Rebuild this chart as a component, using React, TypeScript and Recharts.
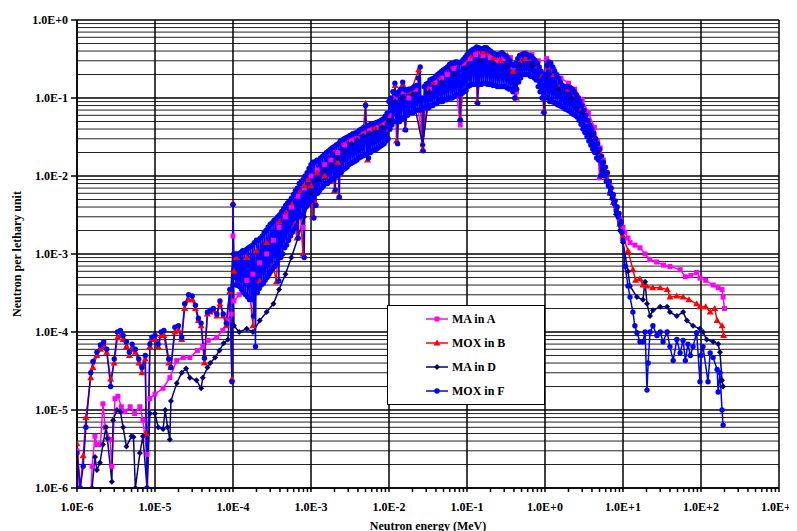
import React from 'react';
import { LineChart, Line, XAxis, YAxis, CartesianGrid, Legend } from 'recharts';

const FONT = '"Liberation Serif", "Times New Roman", serif';

const X_DECADES = [1e-6, 1e-5, 1e-4, 1e-3, 1e-2, 1e-1, 1e0, 1e1, 1e2, 1e3];
const X_LABELS = ['1.0E-6', '1.0E-5', '1.0E-4', '1.0E-3', '1.0E-2', '1.0E-1', '1.0E+0', '1.0E+1', '1.0E+2', '1.0E+3'];
const Y_DECADES = [1e-6, 1e-5, 1e-4, 1e-3, 1e-2, 1e-1, 1e0];
const Y_LABELS = ['1.0E-6', '1.0E-5', '1.0E-4', '1.0E-3', '1.0E-2', '1.0E-1', '1.0E+0'];
const STEPS = [2, 3, 4, 5, 6, 7, 8, 9];

// minor positions (2..9 in each decade)
const X_TICKS = X_DECADES.flatMap((d, i) => (i < X_DECADES.length - 1 ? [d, ...STEPS.map((s) => s * d)] : [d]));
const Y_MINOR = Y_DECADES.slice(0, -1).flatMap((d) => STEPS.map((s) => s * d));

// [energy MeV, neutrons per lethargy unit]
const MA_A: [number, number][] = [
  [1.0e-6, 3e-6], [1.1e-6, 6e-7], [1.5e-6, 7e-7], [1.56e-6, 1.9e-6], [1.7e-6, 4.6e-6], [1.8e-6, 3.6e-6],
  [2.0e-6, 3.6e-6], [2.15e-6, 1.2e-5], [2.3e-6, 6e-6], [2.65e-6, 4.2e-6], [2.8e-6, 1.9e-6], [3.07e-6, 1.4e-5],
  [3.35e-6, 1.5e-5], [3.7e-6, 1.1e-5], [4.1e-6, 9.5e-6], [4.8e-6, 1.1e-5], [5.5e-6, 9e-6], [6.4e-6, 1.1e-5],
  [7.0e-6, 7.4e-6], [7.9e-6, 2.7e-6], [8.6e-6, 1.4e-5], [1.0e-5, 1.6e-5], [1.27e-5, 1.9e-5], [1.55e-5, 2.6e-5],
  [1.9e-5, 4.3e-5], [2.3e-5, 4.7e-5], [2.8e-5, 4.7e-5], [3.5e-5, 5.8e-5], [4.1e-5, 6.5e-5], [4.8e-5, 7.8e-5],
  [6.2e-5, 8.5e-5], [7.4e-5, 1.05e-4], [8.6e-5, 1.4e-4], [9.5e-5, 1.7e-4], [1.0e-4, 1.7e-3], [1.03e-4, 2.5e-4],
  [1.2e-4, 3e-4], [1.5e-4, 4.6e-4], [1.8e-4, 5.5e-4], [2.2e-4, 7.7e-4], [2.7e-4, 1.0e-3], [3.3e-4, 1.5e-3],
  [3.9e-4, 2.2e-3], [4.7e-4, 3.0e-3], [5.6e-4, 4.0e-3], [6.8e-4, 5.5e-3], [7.9e-4, 2.2e-3], [8.2e-4, 7e-3],
  [1.0e-3, 1.0e-2], [1.2e-3, 1.2e-2], [1.5e-3, 1.4e-2], [1.8e-3, 1.6e-2], [2.2e-3, 2.0e-2], [2.7e-3, 2.5e-2],
  [3.3e-3, 2.9e-2], [3.9e-3, 3.0e-2], [4.7e-3, 3.5e-2], [5.6e-3, 4e-2], [6.8e-3, 4.2e-2], [8.2e-3, 4.8e-2],
  [1.0e-2, 6e-2], [1.2e-2, 1.0e-1], [1.5e-2, 1.2e-1], [1.8e-2, 1.0e-1], [2.2e-2, 1.3e-1], [2.7e-2, 2.5e-2],
  [3.3e-2, 1.3e-1], [3.9e-2, 1.6e-1], [4.7e-2, 1.8e-1], [5.6e-2, 2.0e-1], [6.8e-2, 2.4e-1], [8.2e-2, 4.5e-2],
  [9.1e-2, 2.8e-1], [1.1e-1, 3.2e-1], [1.3e-1, 3.6e-1], [1.6e-1, 3.5e-1], [2.0e-1, 3.3e-1], [2.4e-1, 3.0e-1],
  [3.0e-1, 3.2e-1], [3.6e-1, 3.3e-1], [3.9e-1, 2.5e-1], [4.3e-1, 1.2e-1], [4.7e-1, 3.4e-1], [5.6e-1, 3.8e-1],
  [6.8e-1, 3.6e-1], [8.2e-1, 3.0e-1], [9.6e-1, 1.0e-1], [1.05, 3.2e-1], [1.3, 2.3e-1], [1.6, 1.8e-1],
  [2.0, 1.55e-1], [2.4, 1.3e-1], [3.0, 9.5e-2], [3.6, 6.5e-2], [4.3, 4.2e-2], [4.7, 2.8e-2], [5.0, 9.5e-3],
  [5.1, 2.3e-2], [5.6, 1.6e-2], [6.2, 1.1e-2], [6.8, 7.5e-3], [7.5, 5.5e-3], [8.2, 4e-3], [9.1, 2.8e-3],
  [10, 2.2e-3], [10.6, 1.9e-3], [11.6, 1.6e-3], [12.3, 1.4e-3], [14.2, 1.3e-3], [16.5, 1.2e-3], [19.2, 1.0e-3],
  [22, 8.5e-4], [27, 7.9e-4], [33, 7.2e-4], [40, 6.9e-4], [54, 6.3e-4], [63, 5.1e-4], [74, 5.3e-4],
  [88, 5.8e-4], [97, 4.9e-4], [115, 4.6e-4], [143, 4e-4], [166, 3.7e-4], [186, 3.5e-4], [192, 2.8e-4], [200, 2e-4],
];

const MOX_B: [number, number][] = [
  [1.0e-6, 3.7e-6], [1.1e-6, 1.0e-6], [1.2e-6, 2.6e-6], [1.3e-6, 8e-6], [1.5e-6, 2.6e-5], [1.6e-6, 3.5e-5],
  [1.8e-6, 5e-5], [2.0e-6, 6e-5], [2.2e-6, 6.5e-5], [2.4e-6, 5.5e-5], [2.7e-6, 2.5e-5], [3.0e-6, 4e-5],
  [3.3e-6, 8.5e-5], [3.6e-6, 9e-5], [3.9e-6, 8e-5], [4.3e-6, 6.5e-5], [4.7e-6, 5e-5], [5.1e-6, 6e-5],
  [5.6e-6, 5.5e-5], [6.2e-6, 4e-5], [6.8e-6, 3e-5], [7.5e-6, 4.5e-5], [7.7e-6, 5e-6], [8.0e-6, 1.0e-6],
  [8.6e-6, 6.5e-5], [9.1e-6, 8e-5], [1.0e-5, 8e-5], [1.1e-5, 6.5e-5], [1.2e-5, 9e-5], [1.3e-5, 9e-5],
  [1.5e-5, 4e-5], [1.6e-5, 3.5e-5], [1.8e-5, 1.0e-4], [2.0e-5, 1.05e-4], [2.2e-5, 8e-5], [2.4e-5, 2.0e-4],
  [2.7e-5, 2.6e-4], [3.0e-5, 2.6e-4], [3.3e-5, 2.0e-4], [3.6e-5, 1.4e-4], [3.9e-5, 1.2e-4], [4.3e-5, 4e-5],
  [4.7e-5, 1.7e-4], [5.1e-5, 1.8e-4], [5.6e-5, 1.9e-4], [6.2e-5, 1.6e-4], [6.8e-5, 2.3e-4], [7.5e-5, 1.6e-4],
  [8.2e-5, 1.2e-4], [9.1e-5, 3.3e-4], [9.7e-5, 2.5e-5], [1.0e-4, 4.5e-3], [1.03e-4, 6e-4],
  [1.1e-4, 9e-4], [1.2e-4, 4e-4], [1.5e-4, 9e-4], [1.8e-4, 1.2e-4], [2.0e-4, 1.1e-3], [2.2e-4, 4.5e-4],
  [2.7e-4, 1.4e-3], [3.3e-4, 7e-4], [3.6e-4, 4.4e-4], [3.9e-4, 2.6e-3], [4.7e-4, 3.5e-3], [5.6e-4, 4.5e-3],
  [6.2e-4, 2.4e-3], [6.6e-4, 1.6e-3], [7.0e-4, 6.5e-3], [7.9e-4, 1.0e-3], [8.2e-4, 7.5e-3], [9.1e-4, 9e-3],
  [1.0e-3, 7.5e-3], [1.05e-3, 3.0e-3], [1.1e-3, 1.5e-2], [1.15e-3, 4.5e-3], [1.2e-3, 1.1e-2], [1.5e-3, 1.0e-2],
  [1.6e-3, 2.0e-2], [1.8e-3, 8.5e-3], [1.9e-3, 2.2e-2], [2.0e-3, 6.5e-3], [2.2e-3, 1.5e-2], [2.3e-3, 5.5e-3],
  [2.4e-3, 2.7e-2], [2.8e-3, 3.0e-2], [3.3e-3, 3.4e-2], [3.9e-3, 3.6e-2], [4.7e-3, 4.0e-2], [5.0e-3, 8.5e-2],
  [5.3e-3, 1.6e-2], [5.6e-3, 4.5e-2], [6.5e-3, 4.3e-2], [7.5e-3, 4.8e-2], [8.5e-3, 5.2e-2], [9.5e-3, 6.2e-2],
  [1.0e-2, 4e-2], [1.2e-2, 1.45e-1], [1.25e-2, 2.8e-2], [1.5e-2, 1.5e-1], [1.6e-2, 4e-2], [1.9e-2, 1.2e-1],
  [2.4e-2, 2.3e-1], [2.7e-2, 2.2e-2], [3.0e-2, 1.4e-1], [3.6e-2, 1.6e-1], [4.3e-2, 1.9e-1], [5.1e-2, 2.3e-1],
  [6.2e-2, 2.6e-1], [7.5e-2, 2.8e-1], [8.2e-2, 5.5e-2], [9.5e-2, 3.1e-1], [1.1e-1, 3.5e-1], [1.3e-1, 4.2e-1],
  [1.35e-1, 9e-2], [1.6e-1, 3.9e-1], [1.9e-1, 3.8e-1], [2.2e-1, 3.3e-1], [2.7e-1, 3.0e-1], [3.3e-1, 3.5e-1],
  [3.9e-1, 2.2e-1], [4.3e-1, 1.0e-1], [4.7e-1, 3.0e-1], [5.6e-1, 3.2e-1], [6.8e-1, 3.2e-1], [8.2e-1, 2.6e-1],
  [9.1e-1, 1.9e-1], [9.6e-1, 6.8e-2], [1.1, 2.5e-1], [1.3, 2.0e-1], [1.6, 1.5e-1], [2.0, 1.3e-1], [2.4, 1.1e-1],
  [3.0, 7.5e-2], [3.6, 5e-2], [4.3, 3.2e-2], [5.1, 1.9e-2], [5.6, 1.2e-2], [6.2, 9e-3], [6.8, 6e-3],
  [7.5, 4.6e-3], [8.2, 3.4e-3], [9.1, 2.4e-3],
  [10, 1.7e-3], [11.6, 1.1e-3], [13.4, 6.3e-4], [14.5, 4.6e-4], [16.5, 4.8e-4], [18, 4e-4], [20, 3.9e-4],
  [24, 3.7e-4], [30, 3.7e-4], [37, 3.5e-4], [40, 2.8e-4], [49, 2.9e-4], [59, 2.8e-4], [70, 2.6e-4],
  [88, 2.3e-4], [97, 2.1e-4], [115, 2.1e-4], [131, 1.8e-4], [150, 2.0e-4], [161, 1.4e-4], [186, 1.2e-4], [195, 9e-5],
];

const MA_D: [number, number][] = [
  [1.0e-6, 1.0e-6], [1.3e-6, 5e-7], [1.56e-6, 1.0e-6], [1.7e-6, 2.5e-6], [1.8e-6, 1.7e-6], [1.97e-6, 2.1e-6],
  [2.15e-6, 3.6e-6], [2.35e-6, 6e-6], [2.45e-6, 4.3e-6], [2.8e-6, 1.2e-6], [2.9e-6, 7.4e-6], [3.25e-6, 1.0e-5],
  [3.6e-6, 9.5e-6], [3.9e-6, 6e-6], [4.3e-6, 3.4e-6], [5.0e-6, 4.6e-6], [5.3e-6, 4.5e-6], [5.6e-6, 1.0e-6],
  [6.4e-6, 2.8e-6], [7.0e-6, 4.6e-6], [7.9e-6, 1.0e-6], [8.6e-6, 9e-6], [1.0e-5, 9e-6], [1.1e-5, 6e-6],
  [1.27e-5, 5.7e-6], [1.35e-5, 1.0e-5], [1.45e-5, 6e-6], [1.55e-5, 4.2e-6], [1.6e-5, 1.3e-5], [1.9e-5, 2.2e-5],
  [2.2e-5, 3e-5], [2.5e-5, 3.4e-5], [2.8e-5, 2.6e-5], [3.4e-5, 2.4e-5], [3.9e-5, 1.9e-5], [4.1e-5, 2.6e-5],
  [4.7e-5, 3.5e-5], [5.1e-5, 4e-5], [5.9e-5, 4.7e-5], [6.7e-5, 5.8e-5], [7.6e-5, 7.2e-5], [8.6e-5, 8e-5],
  [1.0e-4, 1.0e-3], [1.03e-4, 1.2e-4], [1.2e-4, 1.0e-4], [1.5e-4, 1.1e-4], [1.8e-4, 1.0e-4], [2.2e-4, 1.4e-4],
  [2.7e-4, 1.8e-4], [3.3e-4, 2.3e-4], [3.9e-4, 3.5e-4], [4.7e-4, 5.5e-4], [5.6e-4, 9e-4], [6.8e-4, 1.6e-3],
  [8.2e-4, 3e-3], [1.0e-3, 6e-3], [1.2e-3, 9e-3], [1.5e-3, 1.2e-2], [1.8e-3, 1.4e-2], [2.2e-3, 1.7e-2],
  [2.7e-3, 2.1e-2], [3.3e-3, 2.6e-2], [3.9e-3, 2.9e-2], [4.7e-3, 3.3e-2], [5.6e-3, 3.5e-2], [6.8e-3, 3.7e-2],
  [8.2e-3, 4.2e-2], [1.0e-2, 5e-2], [1.2e-2, 9e-2], [1.5e-2, 1.0e-1], [2.0e-2, 1.1e-1], [2.7e-2, 2.5e-2],
  [3.3e-2, 1.2e-1], [4.7e-2, 1.6e-1], [6.8e-2, 2.0e-1], [1.0e-1, 2.5e-1], [1.5e-1, 3.0e-1], [2.2e-1, 2.8e-1],
  [3.3e-1, 2.6e-1], [4.7e-1, 2.7e-1], [6.8e-1, 2.6e-1], [1.0, 1.8e-1], [1.5, 1.3e-1], [2.2, 1.0e-1],
  [3.0, 6.5e-2], [3.9, 3.2e-2], [4.7, 2e-2], [5.6, 1.2e-2], [6.8, 6e-3], [8.2, 3.2e-3], [9.1, 2e-3],
  [10, 1.4e-3], [11.6, 6e-4], [12.3, 3.9e-4], [15.1, 2.8e-4], [18, 2.6e-4], [19.2, 4.4e-4], [20.3, 2.3e-4],
  [22.2, 1.6e-4], [24.2, 1.9e-4], [30, 2.1e-4], [36.8, 2.1e-4], [40, 1.8e-4], [49, 1.6e-4], [59, 1.8e-4],
  [66, 1.4e-4], [79, 1.2e-4], [97, 1.1e-4], [106, 1.0e-4], [118, 8e-5], [143, 7.5e-5], [166, 7e-5],
  [175, 5.5e-5], [186, 2.4e-5], [192, 2e-5],
];

const MOX_F: [number, number][] = [
  [1.0e-6, 2.8e-6], [1.1e-6, 1.0e-6], [1.2e-6, 1.9e-6], [1.3e-6, 6e-6], [1.5e-6, 3e-5], [1.6e-6, 4.2e-5],
  [1.8e-6, 5.5e-5], [2.0e-6, 6.8e-5], [2.2e-6, 7.5e-5], [2.4e-6, 6e-5], [2.7e-6, 2.0e-5], [3.0e-6, 4.5e-5],
  [3.3e-6, 1.0e-4], [3.6e-6, 1.05e-4], [3.9e-6, 9e-5], [4.3e-6, 7.5e-5], [4.7e-6, 5.5e-5], [5.1e-6, 7e-5],
  [5.6e-6, 6e-5], [6.2e-6, 4.5e-5], [6.8e-6, 3.5e-5], [7.5e-6, 5e-5], [7.9e-6, 1.0e-6], [8.6e-6, 7e-5],
  [9.1e-6, 8.6e-5], [1.0e-5, 9e-5], [1.1e-5, 7e-5], [1.2e-5, 1.0e-4], [1.3e-5, 1.05e-4], [1.5e-5, 4.5e-5],
  [1.6e-5, 3.5e-5], [1.8e-5, 1.15e-4], [2.0e-5, 1.2e-4], [2.2e-5, 8.5e-5], [2.4e-5, 2.3e-4], [2.7e-5, 3e-4],
  [3.0e-5, 2.9e-4], [3.3e-5, 2.2e-4], [3.6e-5, 1.5e-4], [3.9e-5, 1.3e-4], [4.3e-5, 4.6e-5], [4.7e-5, 1.8e-4],
  [5.1e-5, 1.9e-4], [5.6e-5, 2.0e-4], [6.2e-5, 1.7e-4], [6.8e-5, 2.5e-4], [7.5e-5, 1.7e-4], [8.2e-5, 1.3e-4],
  [9.1e-5, 3.5e-4], [9.7e-5, 2.3e-5], [1.0e-4, 4.3e-3], [1.03e-4, 5e-4],
  // 1e-4 .. 1e-3
  [1.06e-4, 1.0e-3], [1.09e-4, 4e-4], [1.12e-4, 1.0e-3], [1.15e-4, 4e-4], [1.19e-4, 1.0e-3], [1.22e-4, 3.8e-4],
  [1.26e-4, 1.05e-3], [1.29e-4, 3.5e-4], [1.33e-4, 1.1e-3], [1.37e-4, 3.2e-4], [1.41e-4, 1.1e-3], [1.45e-4, 3e-4],
  [1.5e-4, 1.15e-3], [1.54e-4, 2.8e-4], [1.58e-4, 1.2e-3], [1.63e-4, 2.6e-4], [1.68e-4, 1.25e-3], [1.73e-4, 2.6e-4],
  [1.78e-4, 1.3e-3], [1.83e-4, 1.6e-4], [1.88e-4, 1.4e-3], [1.94e-4, 6.5e-5], [2.0e-4, 1.5e-3], [2.05e-4, 3.2e-4],
  [2.11e-4, 1.5e-3], [2.17e-4, 3.6e-4], [2.24e-4, 1.6e-3], [2.3e-4, 4e-4], [2.37e-4, 1.7e-3], [2.44e-4, 4.2e-4],
  [2.51e-4, 1.9e-3], [2.58e-4, 4.6e-4], [2.66e-4, 2.0e-3], [2.74e-4, 5e-4], [2.82e-4, 2.2e-3], [2.9e-4, 5.5e-4],
  [2.99e-4, 2.4e-3], [3.07e-4, 6e-4], [3.16e-4, 2.5e-3], [3.25e-4, 6.5e-4], [3.35e-4, 2.7e-3], [3.45e-4, 7e-4],
  [3.55e-4, 2.8e-3], [3.65e-4, 7.5e-4], [3.76e-4, 3.0e-3], [3.87e-4, 4.5e-4], [3.98e-4, 3.2e-3], [4.1e-4, 9e-4],
  [4.22e-4, 3.5e-3], [4.34e-4, 1.0e-3], [4.47e-4, 3.8e-3], [4.6e-4, 1.2e-3], [4.73e-4, 4.2e-3], [4.87e-4, 1.3e-3],
  [5.01e-4, 4.5e-3], [5.16e-4, 1.5e-3], [5.31e-4, 4.8e-3], [5.46e-4, 1.7e-3], [5.62e-4, 5.2e-3], [5.78e-4, 1.9e-3],
  [5.96e-4, 5.8e-3], [6.13e-4, 2.1e-3], [6.31e-4, 6.5e-3], [6.49e-4, 2.3e-3], [6.68e-4, 7e-3], [6.88e-4, 1.6e-3],
  [7.08e-4, 8e-3], [7.29e-4, 3e-3], [7.5e-4, 8.5e-3], [7.72e-4, 3.2e-3], [7.94e-4, 9e-3], [8.18e-4, 9e-4],
  [8.41e-4, 1.0e-2], [8.66e-4, 4e-3], [8.91e-4, 1.1e-2], [9.17e-4, 4.3e-3], [9.44e-4, 1.25e-2], [9.72e-4, 4.7e-3],
  // 1e-3 .. 1e-2
  [1.0e-3, 1.4e-2], [1.03e-3, 5e-3], [1.06e-3, 1.5e-2], [1.09e-3, 2.9e-3], [1.12e-3, 1.5e-2], [1.15e-3, 4.2e-3],
  [1.19e-3, 1.6e-2], [1.22e-3, 6e-3], [1.26e-3, 1.6e-2], [1.29e-3, 6.5e-3], [1.33e-3, 1.7e-2], [1.37e-3, 7e-3],
  [1.41e-3, 1.8e-2], [1.45e-3, 7.5e-3], [1.5e-3, 1.9e-2], [1.54e-3, 8e-3], [1.58e-3, 2.0e-2], [1.63e-3, 8e-3],
  [1.68e-3, 2.1e-2], [1.73e-3, 8.5e-3], [1.78e-3, 2.2e-2], [1.83e-3, 9e-3], [1.88e-3, 2.3e-2], [1.94e-3, 9e-3],
  [2.0e-3, 2.4e-2], [2.05e-3, 6.6e-3], [2.11e-3, 2.5e-2], [2.17e-3, 1.0e-2], [2.24e-3, 2.6e-2], [2.3e-3, 5.4e-3],
  [2.37e-3, 2.8e-2], [2.44e-3, 1.1e-2], [2.51e-3, 2.9e-2], [2.58e-3, 1.2e-2], [2.66e-3, 3.0e-2], [2.74e-3, 1.25e-2],
  [2.82e-3, 3.1e-2], [2.9e-3, 1.3e-2], [2.99e-3, 3.2e-2], [3.07e-3, 1.4e-2], [3.16e-3, 3.3e-2], [3.25e-3, 1.45e-2],
  [3.35e-3, 3.4e-2], [3.45e-3, 1.5e-2], [3.55e-3, 3.5e-2], [3.65e-3, 1.55e-2], [3.76e-3, 3.6e-2], [3.87e-3, 1.6e-2],
  [3.98e-3, 3.7e-2], [4.1e-3, 1.7e-2], [4.22e-3, 3.9e-2], [4.34e-3, 1.75e-2], [4.47e-3, 4.0e-2], [4.6e-3, 1.8e-2],
  [4.73e-3, 4.2e-2], [4.87e-3, 1.85e-2], [5.01e-3, 8e-2], [5.16e-3, 1.9e-2], [5.31e-3, 4.4e-2], [5.46e-3, 1.7e-2],
  [5.62e-3, 4.5e-2], [5.78e-3, 2.0e-2], [5.96e-3, 4.6e-2], [6.13e-3, 2.1e-2], [6.31e-3, 4.7e-2], [6.49e-3, 2.15e-2],
  [6.68e-3, 4.8e-2], [6.88e-3, 2.2e-2], [7.08e-3, 4.9e-2], [7.29e-3, 2.3e-2], [7.5e-3, 5.0e-2], [7.72e-3, 2.4e-2],
  [7.94e-3, 5.2e-2], [8.18e-3, 2.5e-2], [8.41e-3, 5.4e-2], [8.66e-3, 2.6e-2], [8.91e-3, 5.8e-2], [9.17e-3, 2.8e-2],
  [9.44e-3, 6.4e-2], [9.72e-3, 3.0e-2],
  // 1e-2 .. 1e-1
  [1.0e-2, 9e-2], [1.03e-2, 4e-2], [1.06e-2, 1.0e-1], [1.09e-2, 4.5e-2], [1.12e-2, 1.2e-1], [1.15e-2, 5e-2],
  [1.19e-2, 1.55e-1], [1.22e-2, 5e-2], [1.26e-2, 1.1e-1], [1.29e-2, 2.6e-2], [1.33e-2, 1.2e-1], [1.37e-2, 5e-2],
  [1.41e-2, 1.3e-1], [1.45e-2, 5.5e-2], [1.5e-2, 1.6e-1], [1.54e-2, 5.5e-2], [1.58e-2, 1.3e-1], [1.63e-2, 3.9e-2],
  [1.68e-2, 1.25e-1], [1.73e-2, 6e-2], [1.78e-2, 1.3e-1], [1.83e-2, 6.5e-2], [1.88e-2, 1.3e-1], [1.94e-2, 6.5e-2],
  [2.0e-2, 1.35e-1], [2.05e-2, 6.5e-2], [2.11e-2, 1.4e-1], [2.17e-2, 7e-2], [2.24e-2, 1.45e-1], [2.3e-2, 7e-2],
  [2.37e-2, 1.8e-1], [2.44e-2, 7e-2], [2.51e-2, 2.5e-1], [2.58e-2, 7e-2], [2.66e-2, 1.0e-1], [2.74e-2, 2.1e-2],
  [2.82e-2, 1.4e-1], [2.9e-2, 7.5e-2], [2.99e-2, 1.5e-1], [3.07e-2, 7.5e-2], [3.16e-2, 1.55e-1], [3.25e-2, 7.5e-2],
  [3.35e-2, 1.7e-1], [3.45e-2, 8e-2], [3.55e-2, 1.75e-1], [3.65e-2, 8e-2], [3.76e-2, 1.8e-1], [3.87e-2, 8.5e-2],
  [3.98e-2, 1.9e-1], [4.1e-2, 8.5e-2], [4.22e-2, 2.0e-1], [4.34e-2, 9e-2], [4.47e-2, 2.1e-1], [4.6e-2, 9e-2],
  [4.73e-2, 2.2e-1], [4.87e-2, 9e-2], [5.01e-2, 2.3e-1], [5.16e-2, 9.5e-2], [5.31e-2, 2.4e-1], [5.46e-2, 9.5e-2],
  [5.62e-2, 2.5e-1], [5.78e-2, 1.0e-1], [5.96e-2, 2.7e-1], [6.13e-2, 1.0e-1], [6.31e-2, 2.8e-1], [6.49e-2, 1.0e-1],
  [6.68e-2, 2.8e-1], [6.88e-2, 1.05e-1], [7.08e-2, 2.9e-1], [7.29e-2, 1.1e-1], [7.5e-2, 2.9e-1], [7.72e-2, 1.1e-1],
  [7.94e-2, 2.8e-1], [8.18e-2, 5.2e-2], [8.41e-2, 2.9e-1], [8.66e-2, 1.15e-1], [8.91e-2, 3.1e-1], [9.17e-2, 1.2e-1],
  [9.44e-2, 3.3e-1], [9.72e-2, 1.25e-1],
  // 1e-1 .. 1
  [1.0e-1, 3.6e-1], [1.03e-1, 1.4e-1], [1.06e-1, 3.8e-1], [1.09e-1, 1.45e-1], [1.12e-1, 4.0e-1], [1.15e-1, 1.5e-1],
  [1.19e-1, 4.2e-1], [1.22e-1, 1.5e-1], [1.26e-1, 4.3e-1], [1.29e-1, 1.5e-1], [1.33e-1, 4.5e-1], [1.37e-1, 8.6e-2],
  [1.41e-1, 4.4e-1], [1.45e-1, 1.5e-1], [1.5e-1, 4.3e-1], [1.54e-1, 1.5e-1], [1.58e-1, 4.3e-1], [1.63e-1, 1.55e-1],
  [1.68e-1, 4.4e-1], [1.73e-1, 1.55e-1], [1.78e-1, 4.4e-1], [1.83e-1, 1.5e-1], [1.88e-1, 4.2e-1], [1.94e-1, 1.5e-1],
  [2.0e-1, 4.0e-1], [2.05e-1, 1.5e-1], [2.11e-1, 3.8e-1], [2.17e-1, 1.45e-1], [2.24e-1, 3.7e-1], [2.3e-1, 1.45e-1],
  [2.37e-1, 3.6e-1], [2.44e-1, 1.4e-1], [2.51e-1, 3.6e-1], [2.58e-1, 1.4e-1], [2.66e-1, 3.7e-1], [2.74e-1, 1.4e-1],
  [2.82e-1, 3.8e-1], [2.9e-1, 1.4e-1], [2.99e-1, 3.6e-1], [3.07e-1, 1.4e-1], [3.16e-1, 3.4e-1], [3.25e-1, 1.35e-1],
  [3.35e-1, 3.2e-1], [3.45e-1, 1.3e-1], [3.55e-1, 3.0e-1], [3.65e-1, 1.3e-1], [3.76e-1, 2.7e-1], [3.87e-1, 1.2e-1],
  [3.98e-1, 2.6e-1], [4.1e-1, 1.0e-1], [4.22e-1, 2.8e-1], [4.34e-1, 1.3e-1], [4.47e-1, 3.2e-1], [4.6e-1, 1.6e-1],
  [4.73e-1, 3.5e-1], [4.87e-1, 1.8e-1], [5.01e-1, 3.6e-1], [5.16e-1, 2.0e-1], [5.31e-1, 3.7e-1], [5.46e-1, 2.0e-1],
  [5.62e-1, 3.7e-1], [5.78e-1, 2.0e-1], [5.96e-1, 3.6e-1], [6.13e-1, 2.0e-1], [6.31e-1, 3.5e-1], [6.49e-1, 1.9e-1],
  [6.68e-1, 3.4e-1], [6.88e-1, 1.9e-1], [7.08e-1, 3.2e-1], [7.29e-1, 1.8e-1], [7.5e-1, 3.0e-1], [7.72e-1, 1.7e-1],
  [7.94e-1, 2.8e-1], [8.18e-1, 1.4e-1], [8.41e-1, 2.5e-1], [8.66e-1, 1.2e-1], [8.91e-1, 2.2e-1], [9.17e-1, 1.0e-1],
  [9.44e-1, 1.8e-1], [9.72e-1, 6.5e-2],
  // 1 .. 10
  [1.0, 2.0e-1], [1.03, 1.0e-1], [1.06, 2.6e-1], [1.09, 1.0e-1], [1.12, 2.9e-1], [1.15, 9e-2],
  [1.19, 2.8e-1], [1.22, 9e-2], [1.26, 2.5e-1], [1.29, 8.8e-2], [1.33, 2.2e-1], [1.37, 8.5e-2],
  [1.41, 2.0e-1], [1.45, 8.2e-2], [1.5, 1.8e-1], [1.54, 8e-2], [1.58, 1.6e-1], [1.63, 7.8e-2],
  [1.68, 1.45e-1], [1.73, 7.5e-2], [1.78, 1.4e-1], [1.83, 7.2e-2], [1.88, 1.4e-1], [1.94, 7e-2],
  [2.0, 1.4e-1], [2.05, 6.8e-2], [2.11, 1.35e-1], [2.17, 6.5e-2], [2.24, 1.3e-1], [2.3, 6.2e-2],
  [2.37, 1.2e-1], [2.44, 6e-2], [2.51, 1.1e-1], [2.58, 5.7e-2], [2.66, 1.0e-1], [2.74, 5.2e-2],
  [2.82, 9e-2], [2.9, 4.6e-2], [2.99, 8e-2], [3.07, 4e-2], [3.16, 7e-2], [3.25, 3.6e-2],
  [3.35, 6e-2], [3.45, 3.2e-2], [3.55, 5.2e-2], [3.65, 2.8e-2], [3.76, 4.5e-2], [3.87, 2.5e-2],
  [3.98, 4e-2], [4.1, 2.2e-2], [4.22, 3.5e-2], [4.34, 2.0e-2], [4.47, 3.0e-2], [4.6, 1.7e-2],
  [4.73, 2.6e-2], [4.87, 1.6e-2], [5.01, 2.2e-2], [5.16, 1.0e-2], [5.31, 1.8e-2], [5.46, 1.1e-2],
  [5.62, 1.5e-2], [5.78, 1.0e-2], [5.96, 1.3e-2], [6.13, 8.5e-3], [6.31, 1.1e-2], [6.49, 7.5e-3],
  [6.68, 8.5e-3], [6.88, 6.2e-3], [7.08, 7e-3], [7.29, 5.2e-3], [7.5, 5.8e-3], [7.72, 4.4e-3],
  [7.94, 4.8e-3], [8.18, 3.6e-3], [8.41, 4e-3], [8.66, 3e-3], [8.91, 3.3e-3], [9.17, 2.4e-3],
  [9.44, 2.6e-3], [9.72, 1.9e-3],
  // tail
  [10, 1.5e-3], [10.6, 6.9e-4], [11.6, 3.9e-4], [12.3, 2.8e-4], [13.4, 1.8e-4], [14.2, 1.2e-4], [15.1, 9.8e-5],
  [16.5, 7.5e-5], [18, 7.5e-5], [19.2, 1.0e-4], [20.3, 1.8e-5], [21, 4e-5], [22.2, 1.0e-4], [24.2, 1.2e-4],
  [27.3, 9e-5], [30, 1.0e-4], [32.6, 7.5e-5], [36.8, 1.0e-4], [40, 6.5e-5], [44, 4.3e-5], [49, 8e-5],
  [54, 5.4e-5], [59, 7.8e-5], [63, 4.3e-5], [68, 7e-5], [73, 5e-5], [79, 6.5e-5], [88, 9.8e-5], [97, 2.3e-5],
  [100, 5e-5], [106, 6.5e-5], [123, 2.3e-5], [131, 5.4e-5], [143, 4.7e-5], [161, 3.3e-5], [166, 1.7e-5],
  [175, 3e-5], [186, 1.0e-5], [192, 6.4e-6],
];

type Shape = 'square' | 'triangle' | 'diamond' | 'circle';

const SERIES: { name: string; color: string; shape: Shape; data: [number, number][] }[] = [
  { name: 'MA in A', color: '#FF00FF', shape: 'square', data: MA_A },
  { name: 'MOX in B', color: '#FF0000', shape: 'triangle', data: MOX_B },
  { name: 'MA in D', color: '#000080', shape: 'diamond', data: MA_D },
  { name: 'MOX in F', color: '#0000FF', shape: 'circle', data: MOX_F },
];

const Marker = ({ cx, cy, shape, color }: { cx: number; cy: number; shape: Shape; color: string }) => {
  if (shape === 'square') return <rect x={cx - 2.5} y={cy - 2.5} width={5} height={5} fill={color} />;
  if (shape === 'triangle')
    return <polygon points={`${cx},${cy - 3.5} ${cx - 3.5},${cy + 2.5} ${cx + 3.5},${cy + 2.5}`} fill={color} />;
  if (shape === 'diamond')
    return <polygon points={`${cx},${cy - 3} ${cx + 3},${cy} ${cx},${cy + 3} ${cx - 3},${cy}`} fill={color} />;
  return <circle cx={cx} cy={cy} r={2.7} fill={color} />;
};

const dotFor = (shape: Shape, color: string) => (p: any) => {
  if (p.cx == null || p.cy == null || isNaN(p.cx) || isNaN(p.cy)) return <g key={p.index} />;
  return (
    <g key={p.index}>
      <Marker cx={p.cx} cy={p.cy} shape={shape} color={color} />
    </g>
  );
};

const isDecade = (v: number) => Math.abs(Math.log10(v) - Math.round(Math.log10(v))) < 1e-6;

const XTick = (props: any) => {
  const { x, y, payload } = props;
  if (!isDecade(payload.value)) return <g />;
  const idx = X_DECADES.findIndex((d) => Math.abs(Math.log10(d) - Math.log10(payload.value)) < 1e-6);
  return (
    <text x={x} y={y} dy={9} textAnchor="middle" fill="#000" fontSize={12} fontWeight="bold" fontFamily={FONT}>
      {X_LABELS[idx]}
    </text>
  );
};

const yLabel = (v: number) => {
  const idx = Y_DECADES.findIndex((d) => Math.abs(Math.log10(d) - Math.log10(v)) < 1e-6);
  return idx >= 0 ? Y_LABELS[idx] : '';
};

const scalePx = (axis: any, v: number) => {
  const s = axis?.scale;
  if (typeof s === 'function') return s(v);
  if (s && typeof s.map === 'function') return s.map(v);
  return 0;
};

const LegendBox = () => (
  <div
    style={{
      width: 158,
      height: 100,
      boxSizing: 'border-box',
      border: '1px solid #000',
      background: '#fff',
      paddingTop: 1,
      fontFamily: FONT,
      fontWeight: 'bold',
      fontSize: 12,
      color: '#000',
    }}
  >
    {SERIES.map((s) => (
      <div key={s.name} style={{ display: 'flex', alignItems: 'center', height: 24 }}>
        <svg width={22} height={10} style={{ marginLeft: 38 }}>
          <line x1={0} y1={5} x2={22} y2={5} stroke={s.color} strokeWidth={1.5} />
          <Marker cx={11} cy={5} shape={s.shape} color={s.color} />
        </svg>
        <span style={{ marginLeft: 4, lineHeight: '12px' }}>{s.name}</span>
      </div>
    ))}
  </div>
);

export default function App() {
  return (
    <LineChart width={781} height={523} margin={{ top: 12, right: 10, bottom: 0, left: 9 }}>
      <CartesianGrid
        stroke="#222"
        strokeWidth={1}
        vertical={false}
        horizontalCoordinatesGenerator={({ yAxis }: any) => Y_MINOR.map((v) => scalePx(yAxis, v))}
      />
      <CartesianGrid
        stroke="#000"
        strokeWidth={1.5}
        horizontalCoordinatesGenerator={({ yAxis }: any) => Y_DECADES.map((v) => scalePx(yAxis, v))}
        verticalCoordinatesGenerator={({ xAxis }: any) => X_DECADES.map((v) => scalePx(xAxis, v))}
      />
      <XAxis
        dataKey="e"
        type="number"
        scale="log"
        domain={[1e-6, 1e3]}
        allowDataOverflow
        ticks={X_TICKS}
        interval={0}
        tick={<XTick />}
        tickSize={4}
        tickMargin={10}
        height={43}
        stroke="#000"
        strokeWidth={1.5}
        label={{
          content: () => (
            <text x={420} y={522} textAnchor="middle" fill="#000" fontSize={12} fontWeight="bold" fontFamily={FONT}>
              Neutron energy (MeV)
            </text>
          ),
        }}
      />
      <YAxis
        dataKey="v"
        type="number"
        scale="log"
        domain={[1e-6, 1]}
        allowDataOverflow
        ticks={Y_DECADES}
        interval={0}
        tickFormatter={yLabel}
        tick={{ fill: '#000', fontSize: 12, fontWeight: 'bold', fontFamily: FONT }}
        tickSize={6}
        tickMargin={3}
        width={60}
        stroke="#000"
        strokeWidth={1.5}
        label={{
          content: () => (
            <text
              x={13}
              y={246}
              transform="rotate(-90, 13, 246)"
              textAnchor="middle"
              fill="#000"
              fontSize={12}
              fontWeight="bold"
              fontFamily={FONT}
            >
              Neutron per lethary unit
            </text>
          ),
        }}
      />
      <Legend
        layout="vertical"
        align="center"
        verticalAlign="middle"
        content={() => <LegendBox />}
        wrapperStyle={{ left: 379, top: 297, width: 158, height: 100 }}
      />
      {SERIES.map((s) => (
        <Line
          key={s.name}
          name={s.name}
          data={s.data.map(([e, v]) => ({ e, v }))}
          dataKey="v"
          stroke={s.color}
          strokeWidth={1.5}
          dot={dotFor(s.shape, s.color)}
          activeDot={false}
          isAnimationActive={false}
        />
      ))}
    </LineChart>
  );
}
